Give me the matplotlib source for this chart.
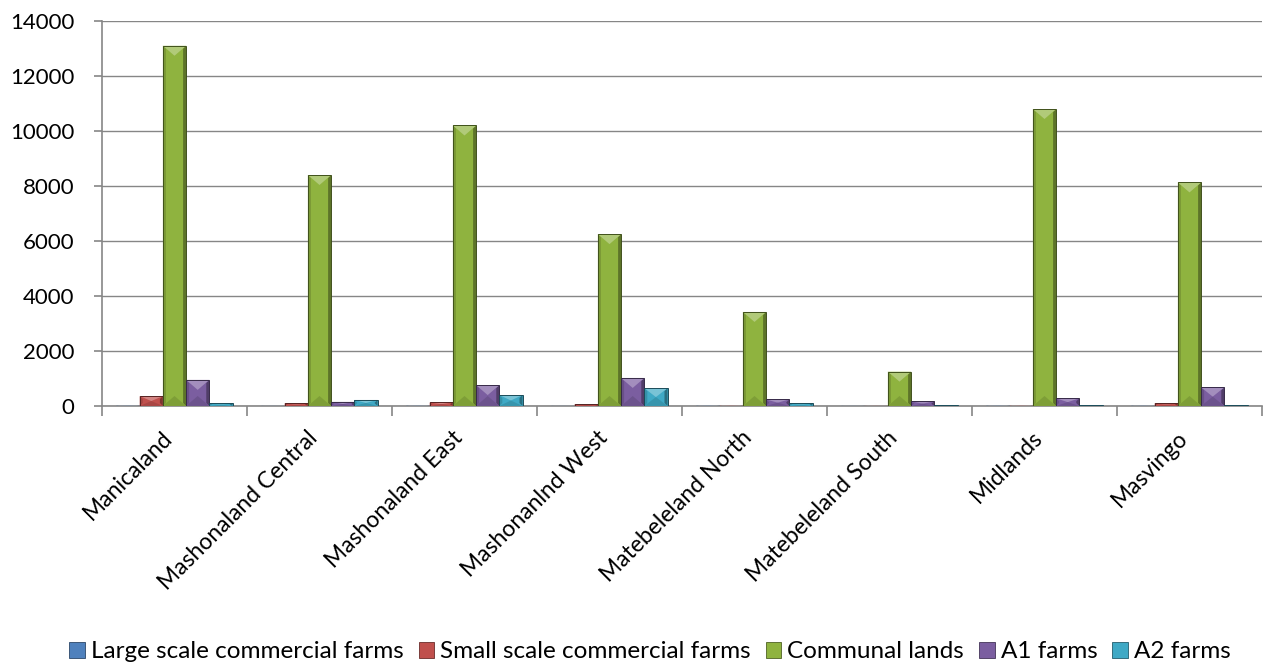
import numpy as np
import matplotlib.pyplot as plt
from matplotlib.patches import Polygon, Patch
from matplotlib.colors import to_rgb

plt.rcParams['font.family'] = ['Lato', 'DejaVu Sans']

regions = ["Manicaland", "Mashonaland Central", "Mashonaland East", "Mashonanlnd West",
           "Matebeleland North", "Matebeleland South", "Midlands", "Masvingo"]
series_names = ["Large scale commercial farms", "Small scale commercial farms",
                "Communal lands", "A1 farms", "A2 farms"]
large_scale = [10, 5, 10, 5, 10, 5, 10, 10]
small_scale = [360, 100, 130, 70, 10, 5, 10, 100]
communal = [13100, 8400, 10200, 6250, 3420, 1250, 10800, 8130]
a1_farms = [950, 150, 760, 1020, 240, 170, 280, 680]
a2_farms = [100, 220, 400, 650, 100, 20, 20, 20]
colors = ["#4F81BD", "#C0504D", "#8FB33F", "#7B5EA0", "#3FA9C5"]


def shade(c, k):
    r = np.array(to_rgb(c))
    if k > 0:
        return tuple(r + (1 - r) * k)
    return tuple(r * (1 + k))


fig = plt.figure(figsize=(12.68, 6.66), dpi=100)
ax = fig.add_axes([102 / 1268, 1 - 406 / 666, 1160 / 1268, 385 / 666])
ax.set_xlim(0, len(regions))
ax.set_ylim(0, 14000)

# pixel -> data scale for the bevelled faces
px_x = len(regions) / 1160
px_y = 14000 / 385

width = 0.16
all_series = [large_scale, small_scale, communal, a1_farms, a2_farms]
for s, vals in enumerate(all_series):
    c = colors[s]
    for i, v in enumerate(vals):
        x0 = i + 0.5 + (s - 2) * width - width / 2
        x1 = x0 + width
        xc = (x0 + x1) / 2
        ty = min(10 * px_y, v / 2)
        sx = 3 * px_x
        sy = min(3 * px_y, v / 2)
        ax.add_patch(Polygon([(x0, 0), (x1, 0), (x1, v), (x0, v)], closed=True,
                             facecolor=c, lw=0, zorder=3))
        ax.add_patch(Polygon([(x0, 0), (x0 + sx, sy), (x0 + sx, v - sy), (x0, v)],
                             closed=True, facecolor=shade(c, -0.15), lw=0, zorder=4))
        ax.add_patch(Polygon([(x1, 0), (x1 - sx, sy), (x1 - sx, v - sy), (x1, v)],
                             closed=True, facecolor=shade(c, -0.35), lw=0, zorder=4))
        ax.add_patch(Polygon([(x0, v), (x1, v), (xc, v - ty)], closed=True,
                             facecolor=shade(c, 0.3), lw=0, zorder=5))
        ax.add_patch(Polygon([(x0, 0), (x1, 0), (xc, ty)], closed=True,
                             facecolor=shade(c, -0.12), lw=0, zorder=5))
        ax.add_patch(Polygon([(x0, 0), (x1, 0), (x1, v), (x0, v)], closed=True,
                             facecolor='none', edgecolor=shade(c, -0.55), lw=0.7, zorder=6))

ax.set_yticks(np.arange(0, 14001, 2000))
ax.yaxis.grid(True, color='#868686', lw=1.0)
ax.set_axisbelow(True)
ax.set_xticks(np.arange(0, len(regions) + 1))
ax.set_xticklabels([])
# label anchors sit a little left of the group centre so the rotated text ends over it
ax.set_xticks(np.arange(len(regions)) + 0.5 - 13 * px_x, minor=True)
ax.set_xticklabels(regions, minor=True, rotation=45, ha='right',
                   rotation_mode='anchor', fontsize=16.5)
ax.tick_params(axis='x', which='minor', length=0, pad=15)
ax.tick_params(axis='x', which='major', length=7, color='#868686', width=1.2)
ax.tick_params(axis='y', length=6, color='#868686', width=1.2, labelsize=16, pad=14)
for side in ['top', 'right']:
    ax.spines[side].set_visible(False)
for side in ['left', 'bottom']:
    ax.spines[side].set_color('#868686')
    ax.spines[side].set_linewidth(1.2)

handles = [Patch(facecolor=colors[s], edgecolor=shade(colors[s], -0.45), lw=0.6)
           for s in range(len(series_names))]
fig.legend(handles, series_names, loc='center', bbox_to_anchor=(650 / 1268, 1 - 652 / 666),
           ncol=5, frameon=False, fontsize=17.5, handlelength=0.65, handleheight=0.65,
           handletextpad=0.25, columnspacing=0.6, borderpad=0.1)

fig.savefig('out.png', dpi=100)
